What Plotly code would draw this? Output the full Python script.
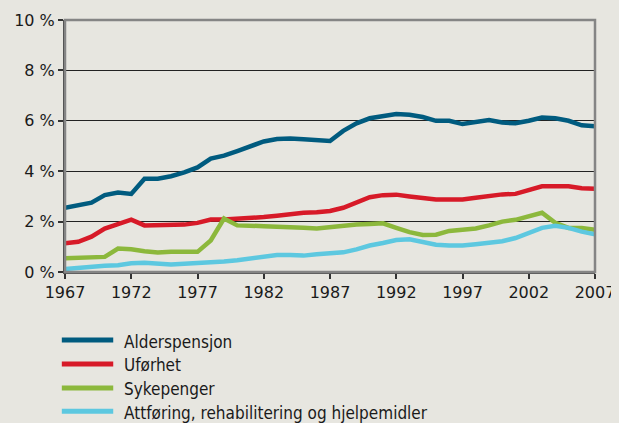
import plotly.graph_objects as go

years = list(range(1967, 2008))

alderspensjon = [2.55, 2.65, 2.75, 3.05, 3.15, 3.1, 3.7, 3.7, 3.8, 3.95,
                 4.15, 4.5, 4.62, 4.8, 5.0, 5.18, 5.28, 5.3, 5.27, 5.22,
                 5.2, 5.6, 5.9, 6.1, 6.2, 6.27, 6.24, 6.15, 6.0, 6.0,
                 5.87, 5.97, 6.03, 5.93, 5.9, 6.0, 6.13, 6.1, 6.0, 5.82, 5.78]
uforhet = [1.14, 1.2, 1.4, 1.72, 1.9, 2.08, 1.85, 1.87, 1.85, 1.88,
           1.95, 2.08, 2.08, 2.1, 2.13, 2.18, 2.23, 2.3, 2.35, 2.37,
           2.42, 2.55, 2.75, 2.97, 3.05, 3.07, 3.0, 2.95, 2.88, 2.88,
           2.88, 2.95, 3.03, 3.08, 3.1, 3.25, 3.4, 3.4, 3.4, 3.32, 3.3]
sykepenger = [0.55, 0.57, 0.55, 0.6, 0.93, 0.9, 0.82, 0.77, 0.8, 0.8,
              0.8, 1.25, 2.12, 1.85, 1.85, 1.82, 1.8, 1.8, 1.76, 1.73,
              1.78, 1.87, 1.88, 1.9, 1.93, 1.75, 1.58, 1.47, 1.48, 1.63,
              1.68, 1.73, 1.85, 2.0, 2.07, 2.2, 2.35, 1.95, 1.75, 1.75, 1.68]
attforing = [0.12, 0.17, 0.2, 0.25, 0.27, 0.35, 0.37, 0.32, 0.3, 0.33,
             0.35, 0.38, 0.42, 0.47, 0.53, 0.62, 0.67, 0.67, 0.65, 0.7,
             0.75, 0.78, 0.9, 1.05, 1.15, 1.27, 1.3, 1.2, 1.08, 1.05,
             1.05, 1.1, 1.15, 1.22, 1.35, 1.55, 1.75, 1.83, 1.75, 1.6, 1.5]

series_names = ["Alderspensjon", "Uførhet", "Sykepenger",
                "Attføring, rehabilitering og hjelpemidler"]
series_values = [alderspensjon, uforhet, sykepenger, attforing]
colors = ["#005b7f", "#d71a28", "#8cb83c", "#5dc8e0"]

y_tickvals = [0, 2, 4, 6, 8, 10]
y_ticktext = ["0 %", "2 %", "4 %", "6 %", "8 %", "10 %"]
x_tickvals = [1967, 1972, 1977, 1982, 1987, 1992, 1997, 2002, 2007]

bg = "#e7e6e0"
font_family = "DejaVu Sans, sans-serif"
legend_family = "DejaVu Sans Condensed, DejaVu Sans, sans-serif"

fig = go.Figure()
for name, vals, col in zip(series_names, series_values, colors):
    fig.add_trace(go.Scatter(x=years, y=vals, mode="lines", name=name,
                             line=dict(color=col, width=4.5),
                             showlegend=False))

# manual legend
legend_y = [-0.270, -0.365, -0.460, -0.553]
shapes = []
annotations = []
for name, col, ly in zip(series_names, colors, legend_y):
    shapes.append(dict(type="line", xref="paper", yref="paper",
                       x0=-0.006, x1=0.091, y0=ly, y1=ly,
                       line=dict(color=col, width=5)))
    annotations.append(dict(xref="paper", yref="paper", x=0.107, y=ly - 0.006,
                            text=name, showarrow=False, xanchor="left",
                            yanchor="middle",
                            font=dict(size=17, color="#1a1a1a",
                                      family=legend_family)))
# frame (top/right)
shapes.append(dict(type="rect", xref="paper", yref="paper", x0=0, x1=1,
                   y0=0, y1=1, line=dict(color="#858585", width=2.5),
                   layer="above"))

fig.update_layout(
    width=611, height=415,
    margin=dict(l=57, r=24, t=12, b=151),
    paper_bgcolor=bg, plot_bgcolor=bg,
    font=dict(family=font_family, size=16, color="#1a1a1a"),
    shapes=shapes, annotations=annotations,
    xaxis=dict(range=[1967, 2007], tickvals=x_tickvals, automargin=False,
               showgrid=False, zeroline=False,
               showline=True, linecolor="#555555", linewidth=2,
               ticks="outside", ticklen=5, tickwidth=1.5, tickcolor="#333333",
               tickfont=dict(size=16)),
    yaxis=dict(range=[0, 10], tickvals=y_tickvals, ticktext=y_ticktext,
               automargin=False,
               showgrid=True, gridcolor="#222222", gridwidth=1,
               zeroline=False,
               showline=True, linecolor="#444444", linewidth=2,
               ticks="outside", ticklen=5, tickwidth=1.5, tickcolor="#333333",
               tickfont=dict(size=16)),
)

fig.write_html("out.html", post_script="document.body.style.background='%s';" % bg)
